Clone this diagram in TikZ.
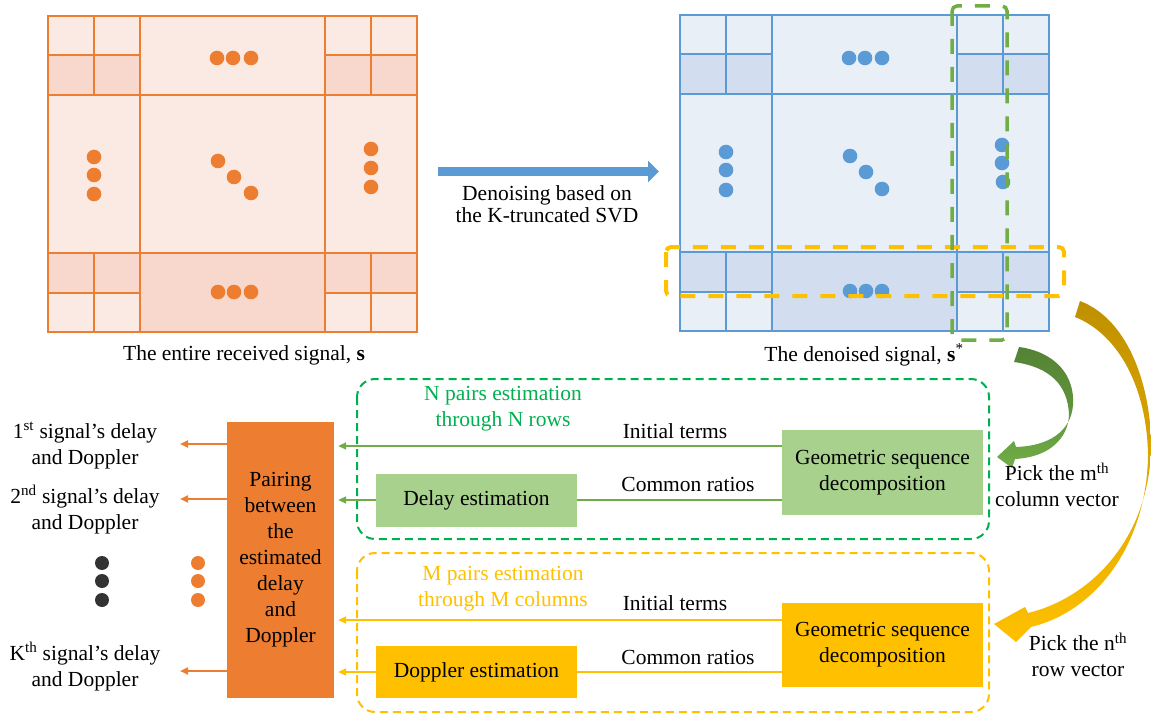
\documentclass[tikz,border=0pt]{standalone}
\usepackage{fontspec}
\setmainfont{Liberation Serif}
\usetikzlibrary{arrows.meta,calc}
\definecolor{orA}{RGB}{237,125,49}
\definecolor{orL}{RGB}{251,234,228}
\definecolor{orD}{RGB}{248,215,204}
\definecolor{blA}{RGB}{91,155,213}
\definecolor{blL}{RGB}{233,239,247}
\definecolor{blD}{RGB}{210,222,239}
\definecolor{grA}{RGB}{112,173,71}
\definecolor{grD}{RGB}{84,130,53}
\definecolor{grT}{RGB}{0,176,80}
\definecolor{grBox}{RGB}{169,209,142}
\definecolor{yeA}{RGB}{255,192,0}
\definecolor{yeD}{RGB}{191,144,0}
\definecolor{dk}{RGB}{51,51,51}
\newcommand\mygridcells[3]{%
  \fill[#1] (48,16) rectangle (417,332);
  \fill[#2] (48,55) rectangle (140,95) (325,55) rectangle (417,95)
            (48,253) rectangle (140,293) (325,253) rectangle (417,293)
            (140,253) rectangle (325,332);
  \draw[#3] (48,16) rectangle (417,332)
    (140,16) -- (140,332) (325,16) -- (325,332)
    (48,95) -- (417,95) (48,253) -- (417,253)
    (94,16) -- (94,95) (94,253) -- (94,332)
    (371,16) -- (371,95) (371,253) -- (371,332)
    (48,55) -- (140,55) (325,55) -- (417,55)
    (48,293) -- (140,293) (325,293) -- (417,293);
}
\tikzset{
  txt/.style={font=\fontsize{21.5}{26}\selectfont, align=center, inner sep=0pt},
  box/.style={txt, minimum width=201pt, inner sep=0pt},
  garrow/.style={draw=grA, line width=2pt, -{Triangle[length=8pt,width=7pt]}},
  gline/.style={draw=grA, line width=2pt},
  yarrow/.style={draw=yeA, line width=2pt, -{Triangle[length=8pt,width=7pt]}},
  yline/.style={draw=yeA, line width=2pt},
  oarrow/.style={draw=orA, line width=2pt, -{Triangle[length=8pt,width=7pt]}},
}
\begin{document}
\begin{tikzpicture}[x=1pt,y=-1pt]
\useasboundingbox (0,0) rectangle (1151,714);
% ---------- left grid ----------
\mygridcells{orL}{orD}{orA,line width=1.5pt}
\foreach \p in {(217,58),(233,58),(251,58),(94,157),(94,175),(94,194),
  (218,161),(234,177),(251,193),(371,149),(371,168),(371,187),
  (218,292),(234,292),(251,292)}
  \fill[orA] \p circle (7.3pt);
% ---------- right grid ----------
\begin{scope}[shift={(632,-1)}]
\mygridcells{blL}{blD}{blA,line width=1.3pt}
\end{scope}
\foreach \p in {(849,58),(865,58),(882,58),(726,152),(726,170),(726,190),
  (850,156),(866,172),(882,189),(1002,145),(1002,163),(1003,182),
  (850,291),(866,291),(882,291)}
  \fill[blA] \p circle (7.3pt);
\draw[yeA, line width=4pt, dash pattern=on 15pt off 13pt, rounded corners=5pt]
  (666,247) rectangle (1064,296);
\draw[grA, line width=3.5pt, dash pattern=on 15pt off 13pt, rounded corners=5pt]
  (952,6) rectangle (1007,340);
% ---------- blue arrow ----------
\coordinate (ba) at (438,171.5);
\coordinate (bb) at (659,171.5);
\draw[blA, line width=9pt, -{Triangle[length=11pt,width=21pt]}] (ba) -- (bb);
\node[txt, font=\fontsize{21.5}{22}\selectfont] (den) at (547,204)
  {Denoising based on\\the K-truncated SVD};
% ---------- captions ----------
\node[txt] (cap1) at (244,355) {The entire received signal, \textbf{s}};
\node[txt] (cap2) at (864,355) {The denoised signal, \textbf{s}\textsuperscript{*}};
% ---------- curved arrows ----------
\shade[top color=grD, bottom color=grA, middle color=grD!60!grA]
  (1019,347) .. controls (1055,352) and (1075,375) .. (1073,405)
  .. controls (1071,432) and (1048,446) .. (1016,447)
  -- (1014,441) -- (997,457) -- (1012,468) -- (1015,459)
  .. controls (1050,457) and (1068,438) .. (1069,415)
  .. controls (1068,385) and (1050,367) .. (1014,362) -- cycle;
\shade[top color=yeD, bottom color=yeA, middle color=yeD!50!yeA]
  (1080,301) .. controls (1130,320) and (1152,390) .. (1151,450)
  .. controls (1148,540) and (1090,598) .. (1028,613)
  -- (1025,607) -- (994,624) -- (1016,642) -- (1031,627)
  .. controls (1100,610) and (1147,540) .. (1148,455)
  .. controls (1147,390) and (1120,335) .. (1075,317) -- cycle;
\node[txt] (pickm) at (1057,485) {Pick the m\textsuperscript{th}\\column vector};
\node[txt] (pickn) at (1078,655) {Pick the n\textsuperscript{th}\\row vector};
% ---------- dashed groups ----------
\draw[grT, line width=2pt, dash pattern=on 8pt off 5pt, rounded corners=18pt]
  (357,379) rectangle (989,539);
\draw[yeA, line width=2pt, dash pattern=on 8pt off 5pt, rounded corners=18pt]
  (357,553) rectangle (989,712);
% ---------- boxes ----------
\node[txt, fill=orA, minimum width=107pt, minimum height=276pt] (pair) at (280.5,560)
  {Pairing\\between\\the\\estimated\\delay\\and\\Doppler};
\node[box, fill=grBox, minimum height=53pt] (delay) at (476.5,500) {Delay estimation};
\node[box, fill=grBox, minimum height=85pt] (geoG) at (882.5,472.5)
  {Geometric sequence\\decomposition};
\node[box, fill=yeA, minimum height=52pt] (dopp) at (476.5,672) {Doppler estimation};
\node[box, fill=yeA, minimum height=84pt] (geoY) at (882.5,645)
  {Geometric sequence\\decomposition};
% ---------- group labels ----------
\node[txt, text=grT] (nlab) at (503,409) {N pairs estimation\\through N rows};
\node[txt, text=yeA] (mlab) at (503,589) {M pairs estimation\\through M columns};
\node[txt] (it1) at (675,431) {Initial terms};
\node[txt] (cr1) at (688,484) {Common ratios};
\node[txt] (it2) at (675,603) {Initial terms};
\node[txt] (cr2) at (688,657) {Common ratios};
% ---------- connectors ----------
\coordinate (yI1) at (0,446);
\coordinate (yI2) at (0,620);
\coordinate (pE) at ([xshift=4pt]pair.east);
\draw[garrow] (geoG.west |- yI1) -- (pE |- yI1);
\draw[gline] (geoG.west |- delay.east) -- (delay.east);
\draw[garrow] (delay.west) -- (pE |- delay.west);
\draw[yarrow] (geoY.west |- yI2) -- (pE |- yI2);
\draw[yline] (geoY.west |- dopp.east) -- (dopp.east);
\draw[yarrow] (dopp.west) -- (pE |- dopp.west);
% ---------- outputs ----------
\node[txt] (o1) at (85,445.5) {1\textsuperscript{st} signal’s delay\\and Doppler};
\node[txt] (o2) at (85,509.5) {2\textsuperscript{nd} signal’s delay\\and Doppler};
\node[txt] (o3) at (85,666.5) {K\textsuperscript{th} signal’s delay\\and Doppler};
\coordinate (t1) at (180,444);
\coordinate (t2) at (180,499);
\coordinate (t3) at (180,671);
\draw[oarrow] (pair.west |- t1) -- (t1);
\draw[oarrow] (pair.west |- t2) -- (t2);
\draw[oarrow] (pair.west |- t3) -- (t3);
\foreach \yy in {563,581,600} {
  \fill[dk] (102,\yy) circle (7pt);
  \fill[orA] (198,\yy) circle (7pt);
}
\end{tikzpicture}
\end{document}
